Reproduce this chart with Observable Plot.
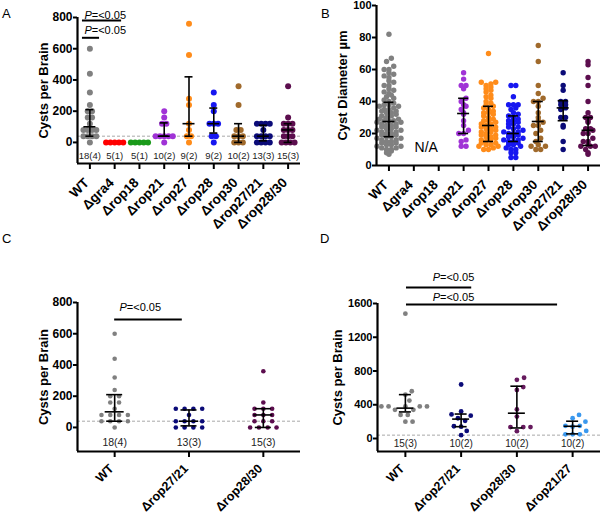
<!DOCTYPE html>
<html><head><meta charset="utf-8">
<script src="https://cdn.jsdelivr.net/npm/d3@7"></script>
<script src="https://cdn.jsdelivr.net/npm/@observablehq/plot@0.6"></script>
<style>
html,body{margin:0;padding:0;background:#fff;}
#wrap{position:relative;width:600px;height:517px;font-family:"Liberation Sans",Arial,sans-serif;overflow:hidden;}
.panel{position:absolute;}
.letter{position:absolute;font-size:13px;line-height:1;color:#000;}
</style></head><body><div id="wrap"></div>
<script>
// ---------- DATA ----------
// Panel A: cysts per brain
const catsA = ["WT","Δgra4","Δrop18","Δrop21","Δrop27","Δrop28","Δrop30","Δrop27/21","Δrop28/30"];
const countsA = ["18(4)","5(1)","5(1)","10(2)","9(2)","9(2)","10(2)","13(3)","15(3)"];
const cystsA = [
  [600,440,320,240,200,200,160,160,120,80,80,80,80,40,40,40,40,0],
  [0,0,0,0,0],
  [0,0,0,0,0],
  [200,160,120,120,40,40,40,40,40,0],
  [760,560,280,240,120,80,40,40,0],
  [320,240,200,120,120,120,40,40,0],
  [360,240,80,80,40,40,40,0,0,0],
  [120,120,120,120,80,40,40,40,40,0,0,0,0],
  [360,160,120,120,120,80,80,80,40,40,40,0,0,0,0]
];
const medianA = [100,null,null,40,120,120,40,40,80];
const q1A = [40,null,null,40,40,60,0,10,0];
const q3A = [210,null,null,125,420,220,120,110,120];

// Panel B: cyst diameter (µm)
const catsB = ["WT","Δgra4","Δrop18","Δrop21","Δrop27","Δrop28","Δrop30","Δrop27/21","Δrop28/30"];
const diamB = [
  [82,67,65,62,60,60,58,57,56,55,53,52,50,50,48,47,46,45,44,43,42,41,40,
   39,38,38,37,37,36,35,35,34,34,33,33,32,31,31,30,29,29,28,28,28,27,27,26,26,25,
   25,24,24,23,23,22,22,21,21,20,20,19,19,18,18,17,17,16,16,15,15,14,14,13,13,12,12,11,11,10,10,9,8,7],
  [],
  [],
  [58,54,50,50,48,42,40,38,37,35,33,32,28,25,22,20,20,16,15,12,12],
  [70,52,52,51,50,49,48,47,46,44,43,42,40,39,38,37,36,35,34,33,33,32,31,30,29,28,28,27,26,26,25,
   24,24,23,23,22,21,21,20,19,19,18,18,17,16,16,15,14,14,13,13,12,12,11,10,10],
  [50,50,43,38,38,38,36,35,33,32,31,30,29,28,28,27,26,26,24,24,23,22,21,21,20,20,19,18,18,17,16,16,15,15,14,13,13,12,11,10,10,8,8,5,5],
  [75,65,50,45,42,40,40,37,33,30,28,27,25,25,22,20,17,15,13,12,12,10,10],
  [58,50,47,40,40,38,38,36,35,30,30,25,24,15,10],
  [65,63,55,50,40,33,30,30,28,27,23,23,22,20,20,17,15,15,13,12,12,12,10,8,7]
];
const medianB = [27.5,null,null,32.5,25,20,27.5,36,22];
const q1B = [18,null,null,20,15,15,15,28,12.5];
const q3B = [39.5,null,null,42,37,31,40,40.5,30];

// Panel C
const catsC = ["WT","Δrop27/21","Δrop28/30"];
const countsC = ["18(4)","13(3)","15(3)"];
const cystsC = [cystsA[0], cystsA[7], cystsA[8]];
const medianC = [100,40,80];
const q1C = [40,10,0];
const q3C = [210,112,120];

// Panel D
const catsD = ["WT","Δrop27/21","Δrop28/30","Δrop21/27"];
const countsD = ["15(3)","10(2)","10(2)","10(2)"];
const cystsD = [
  [1480,560,520,450,380,380,380,380,380,340,340,280,280,200,200],
  [640,320,285,270,240,210,145,140,90,40],
  [720,695,610,575,345,260,135,135,135,87],
  [280,240,200,150,150,140,90,50,50,50]
];
const medianD = [360,230,300,145];
const q1D = [315,140,125,55];
const q3D = [520,290,620,205];

const pLabel = "=<0.05";

// ---------- STYLE ----------
const colA = ["#808080","#ff0000","#1a9a1a","#a033d6","#ff8c1a","#1717f0","#a06a2c","#0b0b78","#5c0e4e"];
const colC = ["#808080","#0b0b78","#5c0e4e"];
const colD = ["#808080","#0b0b78","#661a5e","#3a98ee"];
const FONT = "Liberation Sans, Arial, sans-serif";

function rowOffsets(vals, spacing) {
  const off = new Array(vals.length).fill(0);
  const groups = d3.group(d3.range(vals.length), i => vals[i]);
  for (const [, idx] of groups) idx.forEach((i, j) => off[i] = (j - (idx.length - 1) / 2) * spacing);
  return off;
}
function binOffsets(vals, k, rowH, spacing) {
  const off = new Array(vals.length).fill(0);
  const groups = d3.group(d3.range(vals.length), i => Math.floor(vals[i] * k / rowH + 1e-9));
  for (const [, idx] of groups) {
    idx.sort((a, b) => vals[a] - vals[b]);
    const m = idx.length, slots = d3.range(m).map(j => (j - (m - 1) / 2) * spacing);
    const orderSlots = slots.slice().sort((a, b) => Math.abs(a) - Math.abs(b) || a - b);
    idx.forEach((i, j) => off[i] = orderSlots[j]);
  }
  return off;
}
function swarmOffsets(vals, k, d, step) {
  const order = d3.range(vals.length).sort((a, b) => vals[a] - vals[b]);
  const placed = [], off = new Array(vals.length).fill(0);
  for (const i of order) {
    const y = vals[i] * k;
    for (let j = 0; j < 500; j++) {
      const c = j === 0 ? 0 : (j % 2 ? 1 : -1) * Math.ceil(j / 2) * step;
      let ok = true;
      for (const p of placed) { const dx = p.x - c, dy = p.y - y; if (dx*dx + dy*dy < d*d - 1e-6) { ok = false; break; } }
      if (ok) { off[i] = c; placed.push({x: c, y}); break; }
    }
  }
  return off;
}

function panel(o) {
  const n = o.cats.length;
  const W = o.width, H = o.height;
  const k = (H - o.mt - o.mb) / (o.yDomain[1] - o.yDomain[0]);
  const step = (W - o.ml - o.mr) / n;
  const rows = [];
  o.values.forEach((vals, i) => {
    const off = o.layout === "row" ? rowOffsets(vals, o.spacing)
      : o.layout === "bin" ? binOffsets(vals, k, o.rowH, o.spacing)
      : swarmOffsets(vals, k, o.minDist, 0.8);
    vals.forEach((v, j) => rows.push({x: i + off[j] / step, y: v, c: o.colors[i]}));
  });
  const idx = d3.range(n).filter(i => o.med[i] != null);
  const cw = o.capW / step, mw = o.medW / step;
  const yMin = o.yDomain[0];
  const marks = [];
  if (o.dashed != null) marks.push(Plot.ruleY([o.dashed], {stroke: "#a8a8a8", strokeDasharray: "3,2", strokeWidth: 1}));
  marks.push(Plot.dot(rows, {x: "x", y: "y", r: o.r, fill: "c"}));
  marks.push(Plot.ruleX(idx, {x: i => i, y1: i => o.lo[i], y2: i => o.hi[i], stroke: "#000", strokeWidth: 1.6}));
  marks.push(Plot.ruleY(idx, {y: i => o.hi[i], x1: i => i - cw, x2: i => i + cw, stroke: "#000", strokeWidth: 1.6}));
  marks.push(Plot.ruleY(idx, {y: i => o.lo[i], x1: i => i - cw, x2: i => i + cw, stroke: "#000", strokeWidth: 1.6}));
  marks.push(Plot.ruleY(idx, {y: i => o.med[i], x1: i => i - mw, x2: i => i + mw, stroke: "#000", strokeWidth: 1.6}));
  marks.push(Plot.ruleX([-0.5], {y1: yMin, y2: o.yDomain[1], stroke: "#000", strokeWidth: 2.2}));
  marks.push(Plot.ruleY([yMin], {x1: -0.5, x2: n - 0.5, stroke: "#000", strokeWidth: 2.2}));
  marks.push(Plot.axisY({ticks: o.yTicks, tickFormat: d => String(d), tickSize: 4, tickPadding: 1, strokeWidth: 2, fontWeight: "bold", fontSize: o.yFont, fill: "#000", label: null}));
  marks.push(Plot.axisX({ticks: d3.range(n), tickFormat: () => "", tickSize: 6, strokeWidth: 2, label: null}));
  marks.push(Plot.text(o.cats, {x: (d, i) => i, y: () => yMin, text: d => d, rotate: -45, textAnchor: "end", lineAnchor: "middle",
    dx: -3, dy: o.xDy, fontWeight: "bold", fontSize: o.xFont, fill: "#000"}));
  marks.push(Plot.text([o.title], {text: d => d, frameAnchor: "left", textAnchor: "middle", lineAnchor: "middle", dx: o.titleDx, rotate: -90, fontWeight: "bold", fontSize: 13, fill: "#000"}));
  if (o.counts) marks.push(Plot.text(o.counts, {x: (d, i) => i, y: () => o.countY, text: d => d, fontSize: o.countFont, fill: "#222"}));
  if (o.pLines) {
    marks.push(Plot.ruleY(o.pLines, {y: "y", x1: "x1", x2: "x2", stroke: "#000", strokeWidth: 2}));
    marks.push(Plot.text(o.pLines, {x: "tx", y: "ty", text: () => "P", fontStyle: "italic", textAnchor: "start", fontSize: 11, fill: "#000"}));
    marks.push(Plot.text(o.pLines, {x: "tx", y: "ty", text: () => pLabel, dx: 7.3, textAnchor: "start", fontSize: 11, fill: "#000"}));
  }
  if (o.extra) marks.push(...o.extra);
  return Plot.plot({
    width: W, height: H, marginTop: o.mt, marginBottom: o.mb, marginLeft: o.ml, marginRight: o.mr,
    x: {domain: [-0.5, n - 0.5]}, y: {domain: o.yDomain},
    color: {type: "identity"},
    style: {fontFamily: FONT, background: "transparent", overflow: "visible"},
    marks
  });
}

const wrap = document.getElementById("wrap");
function place(el, left, top) {
  const d = document.createElement("div"); d.className = "panel"; d.style.left = left + "px"; d.style.top = top + "px";
  d.appendChild(el); wrap.appendChild(d);
}
function letter(t, left, top) {
  const d = document.createElement("div"); d.className = "letter"; d.textContent = t;
  d.style.left = left + "px"; d.style.top = top + "px"; wrap.appendChild(d);
}

place(panel({
  cats: catsA, values: cystsA, med: medianA, lo: q1A, hi: q3A, colors: colA, counts: countsA,
  width: 300, height: 240, mt: 17, mb: 77, ml: 77, mr: 0, yDomain: [-135, 800], yTicks: [0,200,400,600,800], yFont: 12,
  xFont: 13.5, xDy: 17,
  layout: "row", spacing: 4.3, r: 3, capW: 4, medW: 6, dashed: 40, countY: -84, countFont: 9.5,
  title: "Cysts per Brain", titleDx: -34,
  pLines: [{x1: -0.3, x2: 1.28, y: 780, tx: -0.22, ty: 812}, {x1: -0.3, x2: 0.39, y: 670, tx: -0.22, ty: 716}]
}), 0, 0);

place(panel({
  cats: catsB, values: diamB, med: medianB, lo: q1B, hi: q3B, colors: colA, counts: null,
  width: 300, height: 240, mt: 5, mb: 75, ml: 76, mr: 0, yDomain: [0, 100], yTicks: [0,20,40,60,80,100], yFont: 11,
  xFont: 13.5, xDy: 17,
  layout: "bin", rowH: 4, spacing: 4.8, r: 2.7, capW: 5, medW: 6, dashed: null,
  title: "Cyst Diameter µm", titleDx: -34,
  extra: [Plot.text(["N/A"], {x: () => 1.5, y: () => 11, text: d => d, fontSize: 14, fill: "#000"})]
}), 300, 0);

place(panel({
  cats: catsC, values: cystsC, med: medianC, lo: q1C, hi: q3C, colors: colC, counts: countsC,
  width: 300, height: 277, mt: 62, mb: 66, ml: 77, mr: 0, yDomain: [-154, 800], yTicks: [0,200,400,600,800], yFont: 12,
  xFont: 12.5, xDy: 15,
  layout: "row", spacing: 8.8, r: 2.3, capW: 8, medW: 9.5, dashed: 40, countY: -96, countFont: 10.5,
  title: "Cysts per Brain", titleDx: -34,
  pLines: [{x1: 0, x2: 0.91, y: 691, tx: 0.065, ty: 768}]
}), 0, 240);

place(panel({
  cats: catsD, values: cystsD, med: medianD, lo: q1D, hi: q3D, colors: colD, counts: countsD,
  width: 300, height: 277, mt: 63, mb: 66, ml: 77, mr: 0, yDomain: [-154, 1600], yTicks: [0,400,800,1200,1600], yFont: 11,
  xFont: 12.5, xDy: 15,
  layout: "swarm", minDist: 7, r: 2.4, capW: 6, medW: 8.5, dashed: 40, countY: -59, countFont: 10,
  title: "Cysts per Brain", titleDx: -39.5,
  pLines: [{x1: 0.02, x2: 1.19, y: 1790, tx: 0.49, ty: 1908}, {x1: 0.02, x2: 2.73, y: 1588, tx: 0.49, ty: 1671}]
}), 300, 240);

letter("A", 2, 7);
letter("B", 321, 7);
letter("C", 2, 232);
letter("D", 320, 232);
</script></body></html>
